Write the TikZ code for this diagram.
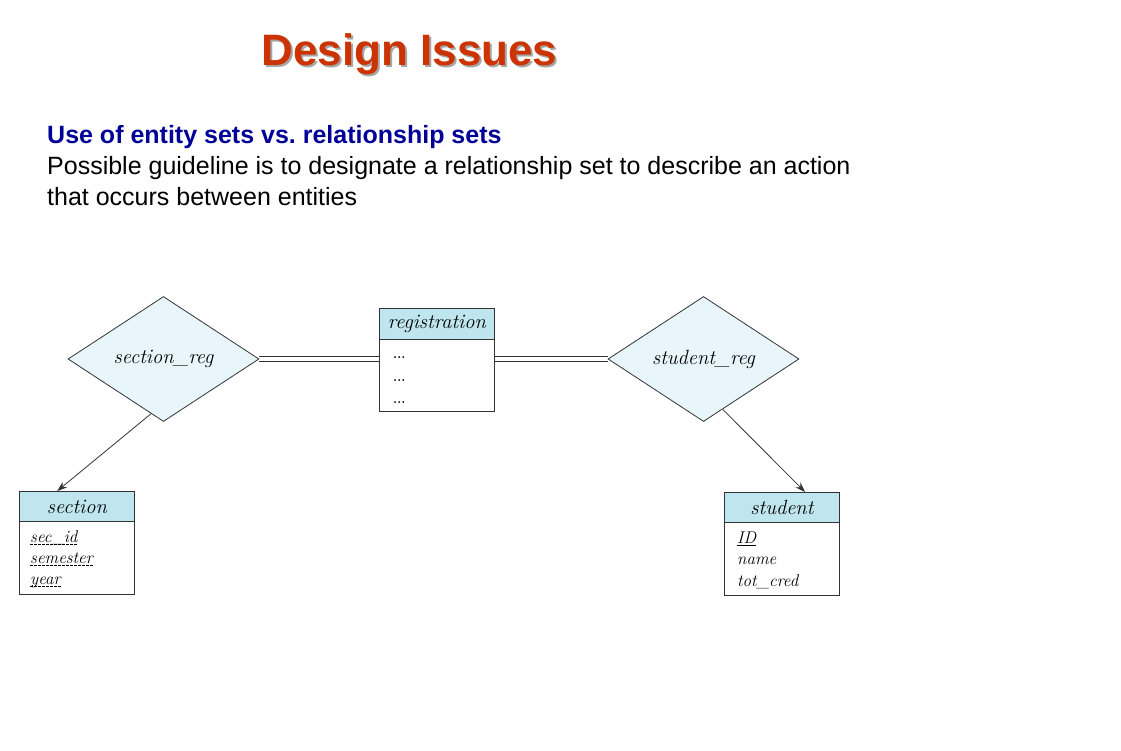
\documentclass[tikz,border=0pt]{standalone}
\usepackage{fontspec}
\usetikzlibrary{shapes.geometric,arrows.meta,calc}
\newfontfamily\arialfont{Liberation Sans}
\definecolor{titlered}{HTML}{CC3300}
\definecolor{subblue}{HTML}{000099}
\definecolor{relfill}{HTML}{E8F5FA}
\definecolor{headfill}{HTML}{BFE6EF}
\definecolor{edgegray}{HTML}{333333}
\begin{document}
\begin{tikzpicture}[x=1pt,y=-1pt,
  rel/.style={diamond, draw=edgegray, fill=relfill, line width=0.8pt,
    minimum width=191pt, minimum height=125pt, aspect=1.53, inner sep=0pt,
    font=\itshape\fontsize{20.5}{24}\selectfont},
  enthead/.style={draw=edgegray, fill=headfill, line width=0.8pt,
    minimum width=115pt, minimum height=31pt, inner sep=0pt, anchor=north west,
    font=\itshape\fontsize{20.5}{24}\selectfont},
  entbody/.style={draw=edgegray, fill=white, line width=0.8pt,
    minimum width=115pt, inner sep=0pt, anchor=north west},
  attr/.style={anchor=base west, inner sep=0pt, text=black,
    font=\itshape\fontsize{17}{20}\selectfont},
  rail/.style={draw=edgegray, line width=0.8pt},
  card/.style={draw=edgegray, line width=0.8pt, -{Stealth[length=10pt,width=7pt]}}
]
\useasboundingbox (0,0) rectangle (1121,750);

% heading and text
\node[anchor=base, inner sep=0pt, text=black!35, font=\arialfont\bfseries\fontsize{44}{50}\selectfont]
  (titleshadow) at (411.5,67) {Design Issues};
\node[anchor=base, inner sep=0pt, text=titlered, font=\arialfont\bfseries\fontsize{44}{50}\selectfont]
  (title) at (409.5,65) {Design Issues};
\node[anchor=base west, inner sep=0pt, text=subblue, font=\arialfont\bfseries\fontsize{25}{28}\selectfont]
  (sub) at (47,143) {Use of entity sets vs.\ relationship sets};
\node[anchor=base west, inner sep=0pt, font=\arialfont\fontsize{25}{28}\selectfont]
  (line1) at (47,174) {Possible guideline is to designate a relationship set to describe an action};
\node[anchor=base west, inner sep=0pt, font=\arialfont\fontsize{25}{28}\selectfont]
  (line2) at (47,205) {that occurs between entities};

% relationship sets
\node[rel] (sr) at (163.5,359) {section\_reg};
\node[rel] (str) at (703.5,359) {student\_reg};

% registration entity
\node[enthead] (regh) at (379,308) {registration};
\node[entbody, minimum height=72pt] (regb) at (379,339) {};
\node[attr, font=\bfseries\fontsize{13}{15}\selectfont] (r1) at (393,358) {...};
\node[attr, font=\bfseries\fontsize{13}{15}\selectfont] (r2) at (393,381) {...};
\node[attr, font=\bfseries\fontsize{13}{15}\selectfont] (r3) at (393,403) {...};

% section entity
\node[enthead] (sech) at (19,491) {section};
\node[entbody, minimum height=73pt] (secb) at (19,521) {};
\node[attr] (s1) at (30,542) {sec\_id};
\node[attr] (s2) at (30,563) {semester};
\node[attr] (s3) at (30,584) {year};
\foreach \n in {s1,s2,s3}
  \draw[dash pattern=on 2.5pt off 1.5pt, line width=0.6pt]
    ([yshift=-2.5pt]\n.base west) -- ([yshift=-2.5pt]\n.base east);

% student entity
\node[enthead] (stuh) at (724,492) {student};
\node[entbody, minimum height=73pt] (stub) at (724,522) {};
\node[attr] (t1) at (737,543) {ID};
\node[attr] (t2) at (737,564) {name};
\node[attr] (t3) at (737,586) {tot\_cred};
\draw[line width=0.6pt] ([yshift=-2.5pt]t1.base west) -- ([yshift=-2.5pt]t1.base east);

% total participation: double lines
\foreach \dy in {-2.2pt,2.2pt} {
  \draw[rail] ([yshift=\dy]sr.east) -- ([yshift=\dy]sr.east -| regb.west);
  \draw[rail] ([yshift=\dy]str.west -| regb.east) -- ([yshift=\dy]str.west);
}
% cardinality arrows
\draw[card] ($(sr.west)!0.87!(sr.south)$) -- ($(sech.north west)!0.33!(sech.north east)$);
\draw[card] ($(str.south)!0.2!(str.east)$) -- ($(stuh.north west)!0.7!(stuh.north east)$);
\end{tikzpicture}
\end{document}
